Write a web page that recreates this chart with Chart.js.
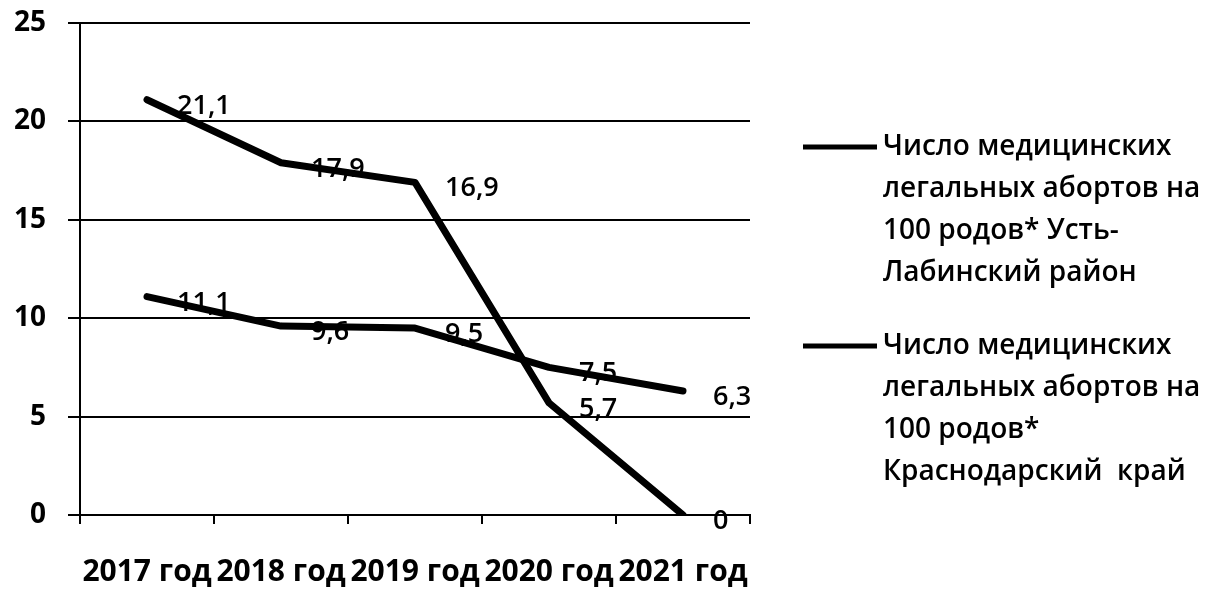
<!DOCTYPE html>
<html>
<head>
<meta charset="utf-8">
<script src="https://cdn.jsdelivr.net/npm/chart.js@4.4.1/dist/chart.umd.min.js"></script>
<style>
  html, body { margin: 0; padding: 0; background: #fff; }
  #wrap { width: 1221px; height: 593px; }
</style>
</head>
<body>
<div id="wrap"><canvas id="chart" width="1221" height="593"></canvas></div>
<script>
const years = ['2017 год', '2018 год', '2019 год', '2020 год', '2021 год'];
const ustLabinsk = [21.1, 17.9, 16.9, 5.7, 0];
const krasnodar = [11.1, 9.6, 9.5, 7.5, 6.3];
const yTicks = [0, 5, 10, 15, 20, 25];

const legendUst = ['Число медицинских', 'легальных абортов на', '100 родов* Усть-', 'Лабинский район'];
const legendKrd = ['Число медицинских', 'легальных абортов на', '100 родов*', 'Краснодарский  край'];

const FONT = "'Open Sans', sans-serif";

// value labels to the right of each point, with a decimal comma
const pointLabels = {
  id: 'pointLabels',
  afterDatasetsDraw(chart) {
    const ctx = chart.ctx;
    ctx.save();
    ctx.fillStyle = '#000';
    ctx.font = '600 27px ' + FONT;
    ctx.textAlign = 'left';
    ctx.textBaseline = 'alphabetic';
    chart.data.datasets.forEach((ds, i) => {
      chart.getDatasetMeta(i).data.forEach((pt, j) => {
        const txt = String(ds.data[j]).replace('.', ',');
        ctx.fillText(txt, pt.x + 30, pt.y + 14);
      });
    });
    ctx.restore();
  }
};

// legend on the right, several lines per entry
const sideLegend = {
  id: 'sideLegend',
  afterDraw(chart) {
    const ctx = chart.ctx;
    const x0 = chart.chartArea.right + 53;
    const tops = [147, 346];
    const pitch = 42;
    ctx.save();
    chart.data.datasets.forEach((ds, i) => {
      const y = tops[i];
      ctx.strokeStyle = ds.borderColor;
      ctx.lineWidth = 5;
      ctx.beginPath();
      ctx.moveTo(x0, y);
      ctx.lineTo(x0 + 74, y);
      ctx.stroke();
      ctx.fillStyle = '#000';
      ctx.font = '600 28px ' + FONT;
      ctx.textBaseline = 'middle';
      ds.label.forEach((line, k) => {
        ctx.fillText(line, x0 + 80, y + k * pitch);
      });
    });
    ctx.restore();
  }
};

new Chart(document.getElementById('chart'), {
  type: 'line',
  data: {
    labels: years,
    datasets: [
      { label: legendUst, data: ustLabinsk, borderColor: '#000', borderWidth: 7,
        pointRadius: 0, borderCapStyle: 'round', borderJoinStyle: 'round', tension: 0 },
      { label: legendKrd, data: krasnodar, borderColor: '#000', borderWidth: 7,
        pointRadius: 0, borderCapStyle: 'round', borderJoinStyle: 'round', tension: 0 }
    ]
  },
  options: {
    responsive: false,
    animation: false,
    layout: { padding: { top: 23, right: 471, left: 0, bottom: 0 } },
    plugins: { legend: { display: false }, tooltip: { enabled: false } },
    scales: {
      x: {
        offset: true,
        afterFit(s) { s.height = 78; },
        grid: { drawOnChartArea: false, drawTicks: true, tickLength: 9, color: '#000', lineWidth: 2, offset: true },
        border: { color: '#000', width: 2 },
        ticks: { color: '#000', autoSkip: false, maxRotation: 0, padding: 30,
                 font: { family: FONT, size: 30, weight: 'bold' } }
      },
      y: {
        min: 0, max: 25,
        afterFit(s) { s.width = 80; s.paddingTop = 0; s.paddingBottom = 0; },
        afterBuildTicks(s) { s.ticks = yTicks.map(v => ({ value: v })); },
        grid: { color: '#000', lineWidth: 2, tickLength: 12 },
        border: { color: '#000', width: 2 },
        ticks: { color: '#000', padding: 22, font: { family: FONT, size: 28, weight: 'bold' } }
      }
    }
  },
  plugins: [pointLabels, sideLegend]
});
</script>
</body>
</html>
